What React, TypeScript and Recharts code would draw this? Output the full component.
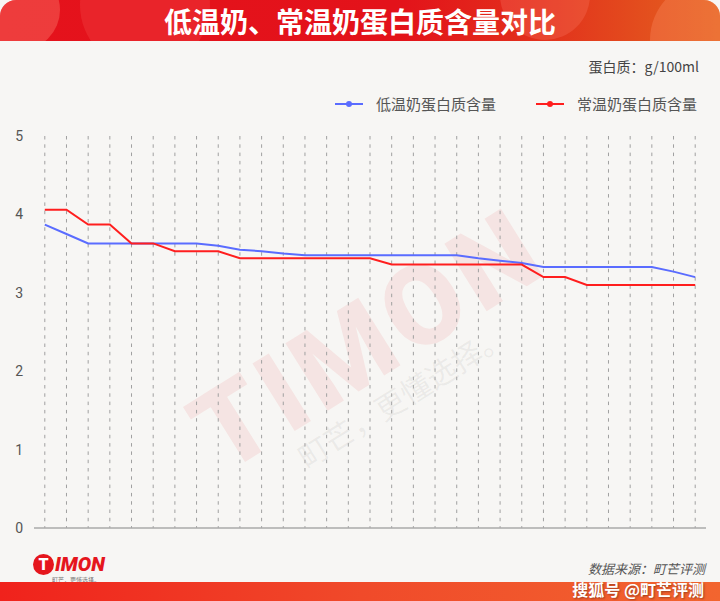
import { CartesianGrid, Legend, Line, LineChart, XAxis, YAxis } from "recharts"

const categories = [
    "1", "2", "3", "4", "5", "6", "7", "8", "9", "10",
    "11", "12", "13", "14", "15", "16", "17", "18", "19", "20",
    "21", "22", "23", "24", "25", "26", "27", "28", "29", "30", "31",
]

// 低温奶
const lowTempProtein = [
    3.87, 3.75, 3.63, 3.63, 3.63, 3.63, 3.63, 3.63, 3.6, 3.55,
    3.53, 3.5, 3.48, 3.48, 3.48, 3.48, 3.48, 3.48, 3.48, 3.48,
    3.44, 3.41, 3.38, 3.33, 3.33, 3.33, 3.33, 3.33, 3.33, 3.27, 3.2,
]

// 常温奶
const normalTempProtein = [
    4.06, 4.06, 3.87, 3.87, 3.63, 3.63, 3.53, 3.53, 3.53, 3.44,
    3.44, 3.44, 3.44, 3.44, 3.44, 3.44, 3.36, 3.36, 3.36, 3.36,
    3.36, 3.36, 3.36, 3.2, 3.2, 3.1, 3.1, 3.1, 3.1, 3.1, 3.1,
]

const yTicks = [0, 1, 2, 3, 4, 5]

const seriesNames = ["低温奶蛋白质含量", "常温奶蛋白质含量"]
const seriesColors = ["#5a6cff", "#ff1e1e"]

const data = categories.map((name, i) => ({
    name,
    low: lowTempProtein[i],
    normal: normalTempProtein[i],
}))

const cjk = '"Noto Sans CJK SC", "Noto Sans", sans-serif'

function LegendContent() {
    return (
        <div style={{ display: "flex", justifyContent: "flex-end", paddingRight: 23, fontFamily: cjk, fontSize: 15, color: "#555", lineHeight: "20px" }}>
            {seriesNames.map((n, i) => (
                <div key={n} style={{ display: "flex", alignItems: "center", marginLeft: i === 0 ? 0 : 40 }}>
                    <svg width={28} height={10} style={{ marginRight: 13 }}>
                        <line x1={0} y1={5} x2={28} y2={5} stroke={seriesColors[i]} strokeWidth={2} />
                        <circle cx={14} cy={5} r={3} fill={seriesColors[i]} />
                    </svg>
                    <span>{n}</span>
                </div>
            ))}
        </div>
    )
}

// x labels are not shown in the reference, but ticks are needed for the grid
const HiddenTick = () => <g />

export default function App() {
    return (
        <div style={{ position: "absolute", left: 0, top: 0, width: 720, height: 601, background: "#f7f6f4", overflow: "hidden" }}>
            {/* title bar */}
            <div style={{
                position: "absolute", left: 0, top: 0, width: 720, height: 41, borderRadius: "16px 16px 0 0", overflow: "hidden",
                background: "linear-gradient(90deg, #e5121c 0%, #e3121a 55%, #e2301c 75%, #e4641f 100%)",
            }}>
                <div style={{ position: "absolute", left: -20, top: -30, width: 80, height: 80, borderRadius: 40, background: "rgba(255,140,120,0.35)" }} />
                <div style={{ position: "absolute", left: 80, top: -60, width: 130, height: 130, borderRadius: 65, background: "rgba(255,120,110,0.18)" }} />
                <div style={{ position: "absolute", left: 500, top: -50, width: 90, height: 90, borderRadius: 45, background: "rgba(255,130,110,0.25)" }} />
                <div style={{ position: "absolute", left: 650, top: -20, width: 120, height: 120, borderRadius: 60, background: "rgba(255,150,110,0.3)" }} />
                <div style={{
                    position: "absolute", left: 0, top: 0, width: 720, height: 41, textAlign: "center", lineHeight: "42px",
                    color: "#fff", fontFamily: cjk, fontWeight: 700, fontSize: 28,
                }}>低温奶、常温奶蛋白质含量对比</div>
            </div>

            <div style={{ position: "absolute", right: 21, top: 56, fontFamily: cjk, fontSize: 14, color: "#444" }}>蛋白质：g/100ml</div>

            {/* watermark */}
            <div style={{
                position: "absolute", left: 368, top: 340, transform: "translate(-50%, -50%) rotate(-32deg)",
                fontFamily: "Roboto, sans-serif", fontWeight: 900, fontSize: 112, color: "rgba(230,60,60,0.09)", whiteSpace: "nowrap", letterSpacing: 6,
            }}>TIMON</div>
            <div style={{
                position: "absolute", left: 402, top: 395, transform: "translate(-50%, -50%) rotate(-32deg)",
                fontFamily: cjk, fontSize: 30, color: "rgba(120,120,120,0.1)", whiteSpace: "nowrap",
            }}>町芒，更懂选择。</div>

            <div style={{ position: "absolute", left: 0, top: 0 }}>
                <LineChart width={720} height={601} data={data} margin={{ top: 136, right: 14, bottom: 71, left: 0 }}>
                    <CartesianGrid horizontal={false} syncWithTicks stroke="#a0a0a0" strokeDasharray="3.5 4.8" />
                    <XAxis
                        dataKey="name"
                        tick={HiddenTick}
                        tickLine={false}
                        interval={0}
                        height={2}
                        padding={{ left: 10.8, right: 10.8 }}
                        axisLine={{ stroke: "#aaa", strokeWidth: 1.5 }}
                    />
                    <YAxis
                        domain={[0, 5]}
                        ticks={yTicks}
                        width={34}
                        axisLine={false}
                        tickLine={false}
                        tickSize={6}
                        tickMargin={5}
                        tick={{ fill: "#555", fontSize: 14, fontFamily: "Roboto, sans-serif" }}
                    />
                    <Legend
                        verticalAlign="middle"
                        align="center"
                        layout="horizontal"
                        content={<LegendContent />}
                        wrapperStyle={{ top: 94, left: 0, width: 720 }}
                    />
                    <Line type="linear" dataKey="low" name={seriesNames[0]} stroke={seriesColors[0]} strokeWidth={2} dot={false} activeDot={false} isAnimationActive={false} />
                    <Line type="linear" dataKey="normal" name={seriesNames[1]} stroke={seriesColors[1]} strokeWidth={2} dot={false} activeDot={false} isAnimationActive={false} />
                </LineChart>
            </div>

            {/* footer logo */}
            <div style={{ position: "absolute", left: 33, top: 554, display: "flex", alignItems: "center" }}>
                <div style={{ width: 21, height: 21, borderRadius: 11, background: "#e5161d", color: "#fff", fontFamily: "Roboto, sans-serif", fontWeight: 900, fontSize: 16, textAlign: "center", lineHeight: "21px" }}>T</div>
                <div style={{ fontFamily: "Roboto, sans-serif", fontWeight: 900, fontStyle: "italic", fontSize: 20, color: "#e5161d", lineHeight: "21px", marginLeft: 1 }}>IMON</div>
            </div>
            <div style={{ position: "absolute", left: 52, top: 575, fontFamily: cjk, fontSize: 6, color: "#777" }}>町芒，更懂选择。</div>

            <div style={{ position: "absolute", right: 15, top: 560, fontFamily: cjk, fontSize: 13, fontStyle: "italic", color: "#555", lineHeight: "18px" }}>数据来源：町芒评测</div>

            {/* bottom bar */}
            <div style={{ position: "absolute", left: 0, top: 582, width: 720, height: 19, background: "linear-gradient(90deg, #f0221c 0%, #f04a2a 50%, #f2652f 100%)" }} />
            <div style={{ position: "absolute", right: 16, top: 580, fontFamily: cjk, fontWeight: 700, fontSize: 16, lineHeight: "19px", color: "#fff", textShadow: "1px 1px 2px rgba(0,0,0,0.35)", whiteSpace: "nowrap" }}>搜狐号 @町芒评测</div>
        </div>
    )
}
